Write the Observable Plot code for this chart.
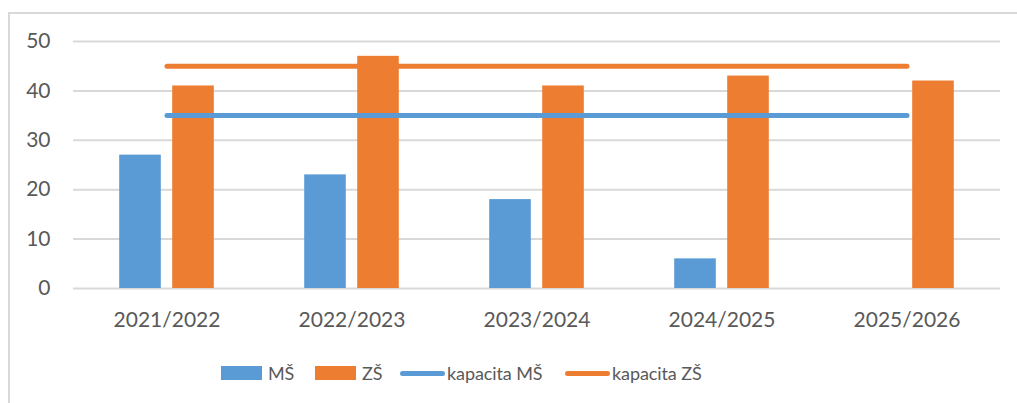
<!DOCTYPE html>
<html>
<head>
<meta charset="utf-8">
<script src="https://cdn.jsdelivr.net/npm/d3@7"></script>
<script src="https://cdn.jsdelivr.net/npm/@observablehq/plot@0.6"></script>
<style>
  html, body { margin: 0; padding: 0; background: #fff; }
  #wrap { position: relative; width: 1017px; height: 403px; overflow: hidden; background: #fff; }
  #frame { position: absolute; left: 8px; top: 12px; width: 1100px; height: 500px;
           border-left: 2px solid #d9d9d9; border-top: 2px solid #d9d9d9; }
  #chart { position: absolute; left: 0; top: 0; }
  #legend { position: absolute; left: 221px; top: 358px; height: 30px; display: flex; align-items: center;
            font-family: Lato, "Open Sans", sans-serif; font-size: 18px; letter-spacing: -0.1px; color: #595959; }
  .item { display: flex; align-items: center; }
  .sw { width: 41px; height: 14px; margin-right: 6px; }
  .ln { width: 45px; height: 5px; border-radius: 3px; margin-right: 2px; }
</style>
</head>
<body>
<div id="wrap">
  <div id="frame"></div>
  <div id="chart"></div>
  <div id="legend"></div>
</div>
<script>
const categories = ["2021/2022", "2022/2023", "2023/2024", "2024/2025", "2025/2026"];
const msValues = [27, 23, 18, 6, 0];
const zsValues = [41, 47, 41, 43, 42];
const kapacitaMS = [35, 35, 35, 35, 35];
const kapacitaZS = [45, 45, 45, 45, 45];
const yTicks = [0, 10, 20, 30, 40, 50];
const seriesNames = ["MŠ", "ZŠ", "kapacita MŠ", "kapacita ZŠ"];
const colors = ["#5b9bd5", "#ed7d31", "#5b9bd5", "#ed7d31"];
const legendItemWidths = [94, 85, 165, 140];

const ms = categories.map((c, i) => ({cat: c, v: msValues[i]}));
const zs = categories.map((c, i) => ({cat: c, v: zsValues[i]}));
const kms = categories.map((c, i) => ({cat: c, v: kapacitaMS[i]}));
const kzs = categories.map((c, i) => ({cat: c, v: kapacitaZS[i]}));

const W = 1017, H = 345;
const bandW = (W - 73 - 17) / categories.length;
const barW = 42;
const inset = (bandW - barW) / 2;

const chart = Plot.plot({
  width: W,
  height: H,
  marginLeft: 73,
  marginRight: 17,
  marginTop: 41,
  marginBottom: 57,
  style: {fontFamily: "Lato, 'Open Sans', sans-serif", fontSize: "21px", color: "#595959", background: "transparent"},
  x: {domain: categories, padding: 0, tickSize: 0, tickPadding: 24, label: null},
  y: {domain: [0, 50], ticks: yTicks, tickSize: 0, tickPadding: 23, label: null},
  marks: [
    Plot.ruleY(yTicks, {stroke: "#d9d9d9", strokeWidth: 2}),
    Plot.barY(ms, {x: "cat", y: "v", fill: colors[0], insetLeft: inset, insetRight: inset, dx: -26.5}),
    Plot.barY(zs, {x: "cat", y: "v", fill: colors[1], insetLeft: inset, insetRight: inset, dx: 26.5}),
    Plot.line(kms, {x: "cat", y: "v", stroke: colors[2], strokeWidth: 5, strokeLinecap: "round"}),
    Plot.line(kzs, {x: "cat", y: "v", stroke: colors[3], strokeWidth: 5, strokeLinecap: "round"})
  ]
});
document.getElementById("chart").appendChild(chart);

const legend = document.getElementById("legend");
seriesNames.forEach((name, i) => {
  const item = document.createElement("div");
  item.className = "item";
  item.style.width = legendItemWidths[i] + "px";
  const sw = document.createElement("div");
  sw.className = i < 2 ? "sw" : "ln";
  sw.style.background = colors[i];
  const t = document.createElement("span");
  t.textContent = name;
  item.appendChild(sw);
  item.appendChild(t);
  legend.appendChild(item);
});
</script>
</body>
</html>
